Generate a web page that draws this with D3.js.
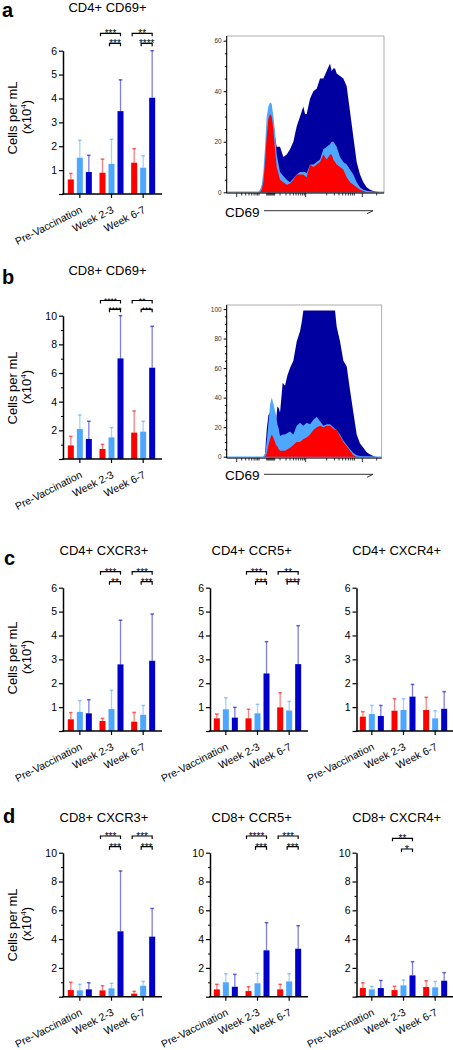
<!DOCTYPE html>
<html><head><meta charset="utf-8">
<script src="https://cdn.jsdelivr.net/npm/d3@7"></script>
<style>body{margin:0;background:#fff}svg{display:block;font-family:"Liberation Sans",Arial,sans-serif}</style>
</head><body><svg id="c" width="453" height="1050"></svg>
<script>
// ---------- DATA ----------
const groups = ["Pre-Vaccination","Week 2-3","Week 6-7"];
// each row: one time point, values for [red, light blue, dark blue]
const cd4cd69Mean  = [[0.61,1.52,0.92],[0.89,1.26,3.47],[1.31,1.10,4.03]];
const cd4cd69Err   = [[0.86,2.25,1.62],[1.46,2.29,4.78],[1.90,1.60,6.00]];
const cd4cd69Sig   = [null,["***","***"],["**","****"]];
const cd8cd69Mean  = [[0.95,2.09,1.40],[0.70,1.51,7.02],[1.84,1.91,6.37]];
const cd8cd69Err   = [[1.58,3.07,2.63],[1.02,2.19,10.0],[3.35,2.63,9.26]];
const cd8cd69Sig   = [null,["****","****"],["**","***"]];
const cd4cxcr3Mean = [[0.49,0.80,0.74],[0.42,0.92,2.79],[0.39,0.68,2.94]];
const cd4cxcr3Err  = [[0.77,1.27,1.31],[0.53,1.70,4.64],[0.78,1.07,4.90]];
const cd4cxcr3Sig  = [null,["***","**"],["***","***"]];
const cd4ccr5Mean  = [[0.53,0.91,0.56],[0.53,0.74,2.41],[0.99,0.86,2.80]];
const cd4ccr5Err   = [[0.71,1.39,0.99],[0.91,1.12,3.74],[1.60,1.24,4.41]];
const cd4ccr5Sig   = [null,["***","***"],["**","****"]];
const cd4cxcr4Mean = [[0.60,0.71,0.63],[0.85,0.88,1.44],[0.88,0.53,0.93]];
const cd4cxcr4Err  = [[0.81,1.07,1.07],[1.35,1.35,1.95],[1.41,0.85,1.65]];
const cd4cxcr4Sig  = [null,null,null];
const cd8cxcr3Mean = [[0.46,0.44,0.51],[0.44,0.58,4.54],[0.21,0.76,4.17]];
const cd8cxcr3Err  = [[1.00,0.86,0.97],[0.76,0.93,8.73],[0.37,1.06,6.13]];
const cd8cxcr3Sig  = [null,["***","***"],["***","***"]];
const cd8ccr5Mean  = [[0.51,1.00,0.69],[0.39,0.93,3.22],[0.51,1.06,3.33]];
const cd8ccr5Err   = [[0.86,1.60,1.55],[0.69,1.62,5.14],[0.86,1.60,4.93]];
const cd8ccr5Sig   = [null,["****","***"],["***","***"]];
const cd8cxcr4Mean = [[0.60,0.51,0.60],[0.46,0.79,1.48],[0.67,0.65,1.11]];
const cd8cxcr4Err  = [[0.97,0.72,1.13],[0.72,1.16,2.43],[1.11,1.06,1.67]];
const cd8cxcr4Sig  = [null,["**","*"],null];

// histograms (CD69 channel, count)
const histAChannel = [0,95,100,105,110,115,120,125,130,135,140,145,150,160,170,180,190,200,210,220,230,235,240,250,260,270,280,290,300,310,315,320,325,330,340,350,360,370,380,390,400,410,420,430,440,450,460,472];
const histADark    = [0,0,0.5,2,5,12,25,30,32,33,28,22,18,18,14,15,17,20,26,30,34,31,31,37,40,41,45,45,48,51,48,49,49,47,46,45,42,32,22,12,7,4,2,1,0.5,0.2,0,0];
const histALight   = [0.3,0.3,1,3,8,18,30,34,35.5,35,30,24,15,8,6.5,5,4,5.5,7,8,8,8,7.5,11,11,12,13,17,18,19,20,20,19,18,14,12,11,9,7,4,2,1,0.6,0.4,0.3,0.3,0.3,0.3];
const histARed     = [0,0,0,1,4,12,22,29,31,30,25,17,10,5,4,3,3.5,5,7,7,7,6.5,6,11,10,11,12,15,13,15,15,13,12,11,10,9,6,4,3,2,1,0.5,0,0,0,0,0,0];
const histBChannel = [0,110,115,120,125,130,135,140,145,148,152,156,160,168,175,182,190,200,210,220,225,230,240,250,260,270,280,290,300,310,320,325,330,340,350,360,370,380,390,400,410,420,430,440,450,465];
const histBDark    = [0,0,2,18,28,30,35,33,26,24,34,33,30,50,48,55,60,65,78,85,91,99,99,99,99,99,99,99,99,99,99,99,88,78,65,61,45,30,15,9,6,3,1.5,0.5,0,0];
const histBLight   = [0.3,0.3,2,10,22,35,40,36,31,28,22,19,14,15,15,16,17,15,21,23,22,21,23,22,25,27,24,21,22,22,20,19,18,15,11,8,5,2.5,1,0.5,0.3,0.3,0.3,0.3,0.3,0.3];
const histBRed     = [0,0,0,2,8,12,15,13,10,8,7,5,4,4,4,5,6,8,10,10,11,12,13,15,18,20,21,20,21,21,19,18.5,18,14,10,7,4,1,0,0,0,0,0,0,0,0];
const histXTicks   = [30,45,57,67,75,82,88,93,97,120,123,126,129,132,135,138,141,144,160,178,190,200,208,215,222,228,233,237,300,323,337,348,357,365,372,378,383,407,450];
const histXMajor   = [30,237,407];

// ---------- STYLE / LAYOUT ----------
const barColors = ["#ff0000","#4da6ff","#0000c8"];
const histColors = {dark:"#0000a0", light:"#4da6ff", red:"#ff0000"};
const svg = d3.select("#c");
svg.append("rect").attr("width",453).attr("height",1050).attr("fill","#fff");

const cols = [{ax:63,b0:64,b1:159,end:162},{ax:210,b0:210,b1:305,end:308},{ax:356.5,b0:356,b1:451,end:454}];
const rows = {
  a:{y0:194,yT:50.7,max:6,ticks:[0,1,2,3,4,5,6],minor:[],brT:33.3,brL:43.3,title:11.7,ylab:118,starSize:10},
  b:{y0:459,yT:315.7,max:10,ticks:[0,2,4,6,8,10],minor:[1,3,5,7,9],brT:300.5,brL:309.3,title:275,ylab:388,starSize:8.5},
  c:{y0:731,yT:587.7,max:6,ticks:[0,1,2,3,4,5,6],minor:[],brT:571.7,brL:581.7,title:555,ylab:658,starSize:10},
  d:{y0:996.7,yT:852.7,max:10,ticks:[0,2,4,6,8,10],minor:[1,3,5,7,9],brT:836,brL:846.7,title:821.7,ylab:925,starSize:10}
};
const panels = [
  {row:"a",col:0,title:"CD4+ CD69+",tx:107.5,mean:cd4cd69Mean,err:cd4cd69Err,sig:cd4cd69Sig},
  {row:"b",col:0,title:"CD8+ CD69+",tx:107.5,mean:cd8cd69Mean,err:cd8cd69Err,sig:cd8cd69Sig},
  {row:"c",col:0,title:"CD4+ CXCR3+",tx:104,mean:cd4cxcr3Mean,err:cd4cxcr3Err,sig:cd4cxcr3Sig},
  {row:"c",col:1,title:"CD4+ CCR5+",tx:251.7,mean:cd4ccr5Mean,err:cd4ccr5Err,sig:cd4ccr5Sig},
  {row:"c",col:2,title:"CD4+ CXCR4+",tx:396.7,mean:cd4cxcr4Mean,err:cd4cxcr4Err,sig:cd4cxcr4Sig},
  {row:"d",col:0,title:"CD8+ CXCR3+",tx:104,mean:cd8cxcr3Mean,err:cd8cxcr3Err,sig:cd8cxcr3Sig},
  {row:"d",col:1,title:"CD8+ CCR5+",tx:251.7,mean:cd8ccr5Mean,err:cd8ccr5Err,sig:cd8ccr5Sig},
  {row:"d",col:2,title:"CD8+ CXCR4+",tx:396.7,mean:cd8cxcr4Mean,err:cd8cxcr4Err,sig:cd8cxcr4Sig,brOff:2.3}
];
const letters = [["a",2,17],["b",2,284],["c",4,565],["d",3,823]];

function drawBar(p){
  const col = cols[p.col], row = rows[p.row];
  const x = d3.scaleBand().domain(groups).range([col.b0,col.b1]);
  const y = d3.scaleLinear().domain([0,row.max]).range([row.y0,row.yT]);
  const g = svg.append("g");
  const cxOf = gi => x(groups[gi]) + x.bandwidth()/2;
  const recs = [];
  p.mean.forEach((vals,gi)=>vals.forEach((v,si)=>recs.push({gi,si,v,e:p.err[gi][si],cx:cxOf(gi)+(si-1)*9})));
  g.selectAll("rect.bar").data(recs).join("rect")
    .attr("x",d=>d.cx-3).attr("width",6)
    .attr("y",d=>y(d.v)).attr("height",d=>y(0)-y(d.v))
    .attr("fill",d=>barColors[d.si]);
  g.selectAll("line.eb").data(recs).join("line")
    .attr("x1",d=>d.cx).attr("x2",d=>d.cx).attr("y1",d=>y(d.v)).attr("y2",d=>y(d.e))
    .attr("stroke",d=>barColors[d.si]).attr("stroke-opacity",0.5).attr("stroke-width",1.3);
  g.selectAll("line.cap").data(recs).join("line")
    .attr("x1",d=>d.cx-1.8).attr("x2",d=>d.cx+1.8).attr("y1",d=>y(d.e)).attr("y2",d=>y(d.e))
    .attr("stroke",d=>barColors[d.si]).attr("stroke-opacity",0.6).attr("stroke-width",1.5);
  // y axis
  const ya = g.append("g").attr("transform",`translate(${col.ax},0)`)
    .call(d3.axisLeft(y).tickValues(row.ticks).tickSize(4).tickSizeOuter(0).tickPadding(2).tickFormat(d=>d===0?"":d));
  ya.select(".domain").attr("stroke-width",1.5);
  ya.selectAll(".tick line").attr("stroke-width",1.2);
  ya.selectAll("text").attr("font-size",10.5).attr("font-family","Liberation Sans, Arial, sans-serif").attr("fill","#000");
  if(row.minor.length){
    const ym = g.append("g").attr("transform",`translate(${col.ax},0)`)
      .call(d3.axisLeft(y).tickValues(row.minor).tickSize(2).tickFormat(""));
    ym.select(".domain").remove();
  }
  // x axis
  g.append("line").attr("x1",col.ax-0.75).attr("x2",col.end).attr("y1",y(0)).attr("y2",y(0)).attr("stroke","#000").attr("stroke-width",1.5);
  groups.forEach((gr,gi)=>{
    const cx = cxOf(gi);
    g.append("line").attr("x1",cx).attr("x2",cx).attr("y1",y(0)).attr("y2",y(0)+4).attr("stroke","#000").attr("stroke-width",1.2);
    g.append("text").attr("transform",`translate(${cx+3},${y(0)+18}) rotate(-27)`)
      .attr("text-anchor","end").attr("font-size",10.5).text(gr);
  });
  // title
  g.append("text").attr("x",p.tx).attr("y",row.title).attr("text-anchor","middle").attr("font-size",13).text(p.title);
  // significance brackets
  const off = p.brOff||0;
  p.sig.forEach((s,gi)=>{
    if(!s) return;
    const cx = cxOf(gi), rc = cx-9, lc = cx, dc = cx+9;
    const lines = [[rc-2,dc,row.brT+off,s[0]],[lc-2,dc,row.brL+off,s[1]]];
    lines.forEach(([a,b,yy,t])=>{
      g.append("path").attr("d",`M${a},${yy+3}V${yy}H${b}V${yy+3}`).attr("fill","none").attr("stroke","#000").attr("stroke-width",1.2);
      g.append("text").attr("x",(a+b)/2).attr("y",yy+row.starSize*0.38).attr("text-anchor","middle").attr("font-size",row.starSize).text(t);
    });
  });
  // y label
  if(p.col===0){
    g.append("text").attr("transform",`translate(17,${row.ylab}) rotate(-90)`).attr("text-anchor","middle").attr("font-size",13).text("Cells per mL");
    const t2 = g.append("text").attr("transform",`translate(31,${row.ylab-1}) rotate(-90)`).attr("text-anchor","middle").attr("font-size",13);
    t2.append("tspan").text("(x10");
    t2.append("tspan").attr("font-size",8).attr("dy",-5).text("4");
    t2.append("tspan").attr("dy",5).text(")");
  }
}
panels.forEach(drawBar);

letters.forEach(([t,x,y])=>svg.append("text").attr("x",x).attr("y",y).attr("font-size",20).attr("font-weight","bold").text(t));

// ---------- HISTOGRAMS ----------
const hists = [
  {ch:histAChannel,dark:histADark,light:histALight,red:histARed,xMax:472,yMax:60,yTicks:[0,20,40,60],
   left:226.7,right:384,top:36,bottom:193,yZero:192.3,yTopPx:40.7,labelY:216.5,arrowY:210.7,id:"ha"},
  {ch:histBChannel,dark:histBDark,light:histBLight,red:histBRed,xMax:465,yMax:100,yTicks:[0,20,40,60,80,100],
   left:226.7,right:381.7,top:305,bottom:458,yZero:456.7,yTopPx:309,labelY:480,arrowY:474.3,id:"hb"}
];
function drawHist(h){
  const x = d3.scaleLinear().domain([0,h.xMax]).range([h.left,h.right]);
  const y = d3.scaleLinear().domain([0,h.yMax]).range([h.yZero,h.yTopPx]);
  const g = svg.append("g");
  g.append("clipPath").attr("id",h.id).append("rect").attr("x",h.left).attr("y",h.top).attr("width",h.right-h.left).attr("height",h.bottom-h.top);
  const pg = g.append("g").attr("clip-path",`url(#${h.id})`);
  const mk = arr => d3.area().x((d,i)=>x(h.ch[i])).y0(y(0)).y1(d=>y(d))(arr);
  pg.append("path").attr("d",mk(h.dark)).attr("fill",histColors.dark);
  pg.append("path").attr("d",mk(h.light)).attr("fill",histColors.light);
  pg.append("path").attr("d",mk(h.red)).attr("fill",histColors.red);
  g.append("rect").attr("x",h.left).attr("y",h.top).attr("width",h.right-h.left).attr("height",h.bottom-h.top)
    .attr("fill","none").attr("stroke","#999").attr("stroke-width",0.8);
  g.append("line").attr("x1",h.left).attr("x2",h.left).attr("y1",h.top).attr("y2",h.bottom).attr("stroke","#000").attr("stroke-width",1);
  g.append("line").attr("x1",h.left).attr("x2",h.right).attr("y1",h.bottom).attr("y2",h.bottom).attr("stroke","#000").attr("stroke-width",1);
  const ya = g.append("g").attr("transform",`translate(${h.left},0)`)
    .call(d3.axisLeft(y).tickValues(h.yTicks).tickSize(3).tickPadding(2).tickSizeOuter(0));
  ya.select(".domain").remove();
  ya.selectAll("text").attr("font-size",6.5).attr("fill","#333").attr("font-family","Liberation Sans, Arial, sans-serif");
  const minor = d3.range(0,h.yMax+0.1,5).filter(v=>!h.yTicks.includes(v));
  const ym = g.append("g").attr("transform",`translate(${h.left},0)`)
    .call(d3.axisLeft(y).tickValues(minor).tickSize(1.8).tickFormat(""));
  ym.select(".domain").remove();
  g.selectAll("line.xt").data(histXTicks).join("line")
    .attr("x1",d=>x(d)).attr("x2",d=>x(d)).attr("y1",h.bottom)
    .attr("y2",d=>h.bottom+(histXMajor.includes(d)?4:2.5)).attr("stroke","#000").attr("stroke-width",0.8);
  g.append("text").attr("x",225).attr("y",h.labelY).attr("font-size",13.5).text("CD69");
  g.append("line").attr("x1",264).attr("x2",373).attr("y1",h.arrowY).attr("y2",h.arrowY).attr("stroke","#333").attr("stroke-width",1);
  g.append("line").attr("x1",367).attr("x2",373).attr("y1",h.arrowY+3).attr("y2",h.arrowY).attr("stroke","#333").attr("stroke-width",1);
}
hists.forEach(drawHist);
</script></body></html>
